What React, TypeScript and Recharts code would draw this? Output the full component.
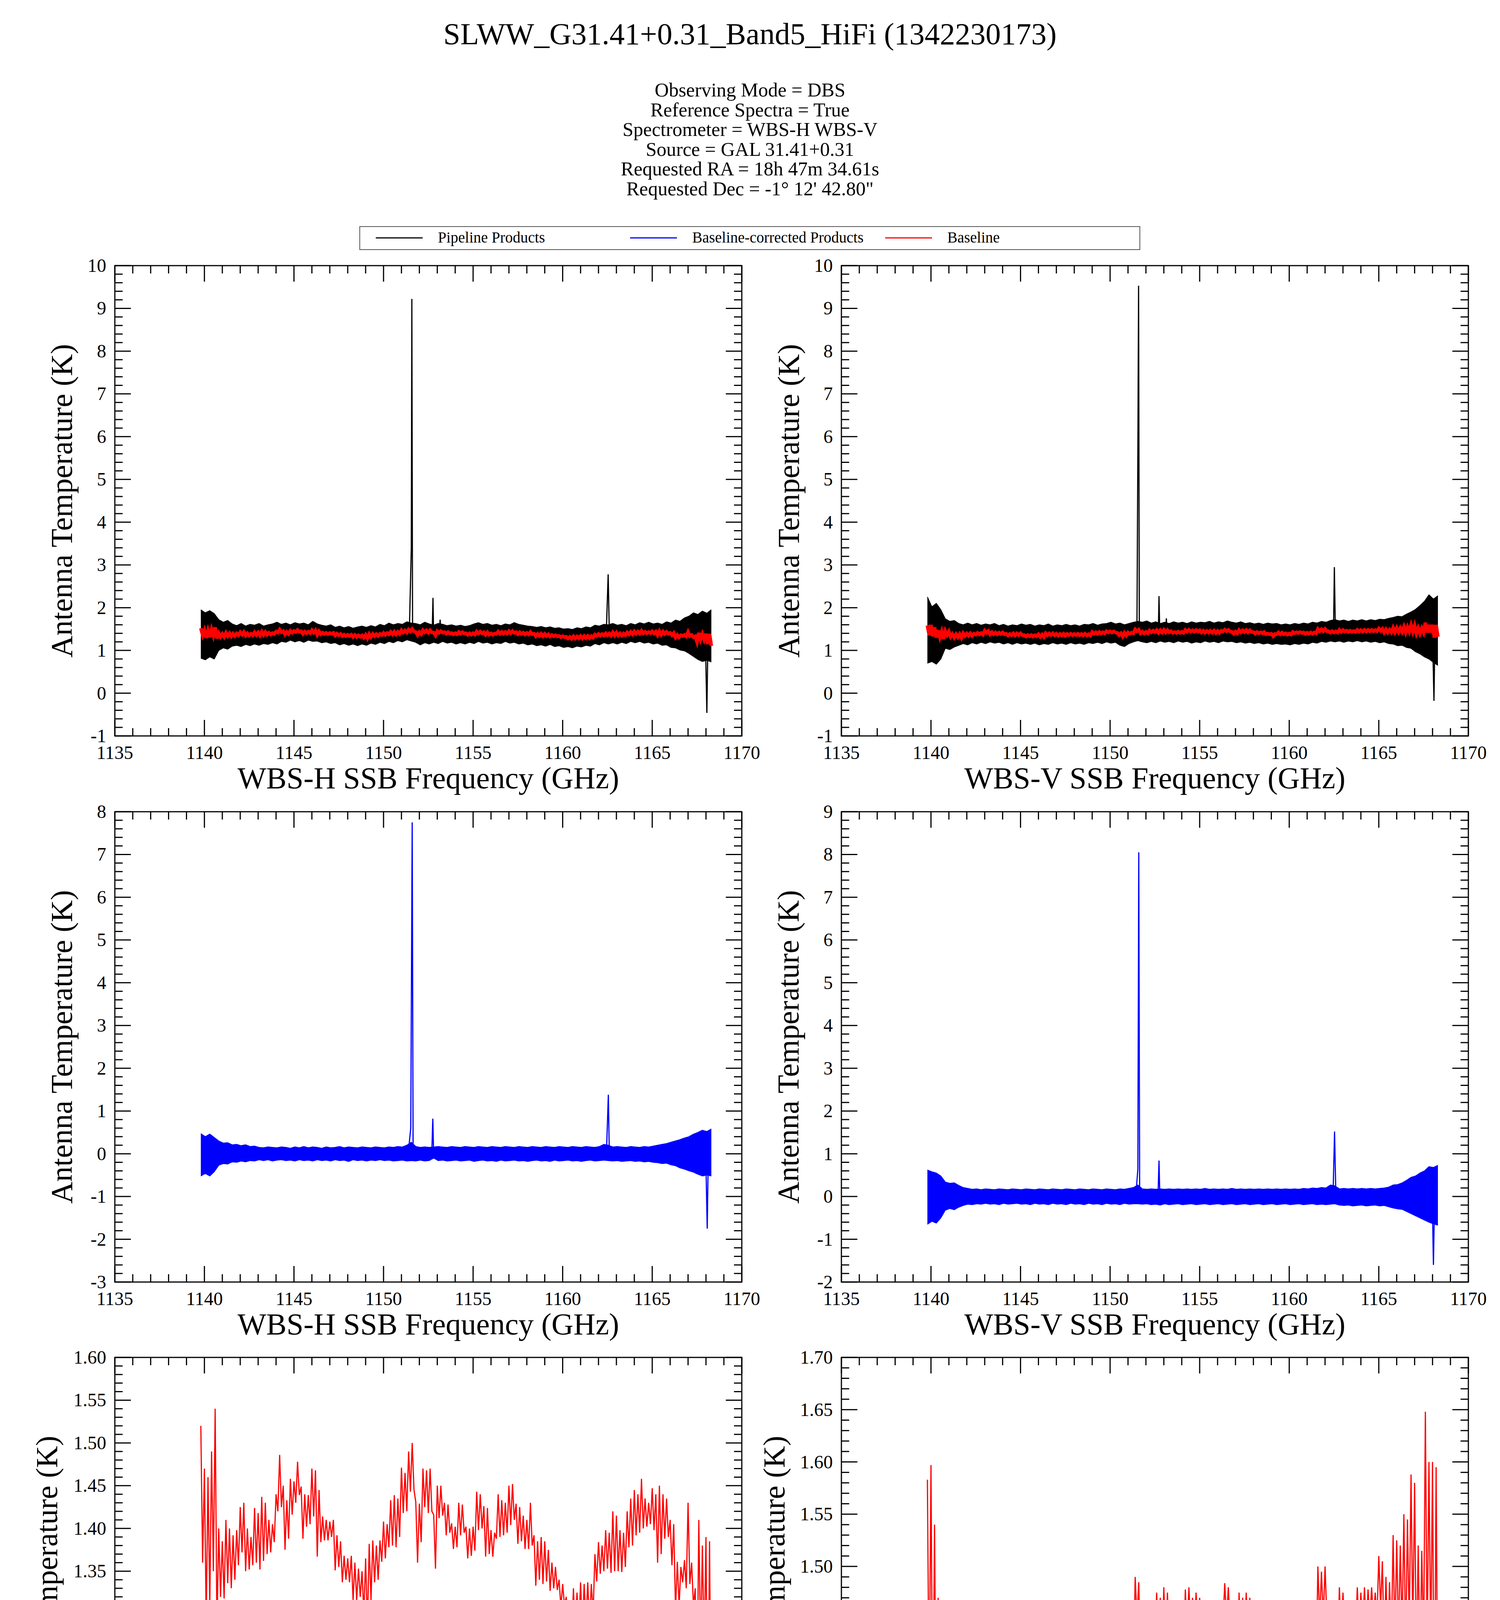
import { Area, ComposedChart, Line, ReferenceArea, XAxis, YAxis } from "recharts";

const SERIF = "'Liberation Serif', 'Times New Roman', serif";

// plot geometry (page pixels)
const PLOT_W = 1605;
const PLOT_H = 1204;
const MARGIN_TOP = 50;
const MARGIN_RIGHT = 60;
const Y_AXIS_W = 260;
const X_AXIS_H = 170;
const CHART_W = Y_AXIS_W + PLOT_W + MARGIN_RIGHT;
const CHART_H = MARGIN_TOP + PLOT_H + X_AXIS_H;

const TITLE = "SLWW_G31.41+0.31_Band5_HiFi (1342230173)";
const INFO_LINES = [
  "Observing Mode = DBS",
  "Reference Spectra = True",
  "Spectrometer = WBS-H WBS-V",
  "Source = GAL 31.41+0.31",
  "Requested RA = 18h 47m 34.61s",
  "Requested Dec = -1\u00b0 12' 42.80\"",
];
const LEGEND = [
  { name: "Pipeline Products", color: "#000000", x: 962 },
  { name: "Baseline-corrected Products", color: "#0000ff", x: 1613 },
  { name: "Baseline", color: "#ff0000", x: 2266 },
];

const freqMajor = [1135, 1140, 1145, 1150, 1155, 1160, 1165, 1170];
const tempMajorTop = [-1, 0, 1, 2, 3, 4, 5, 6, 7, 8, 9, 10];
const tempMajorMidH = [-3, -2, -1, 0, 1, 2, 3, 4, 5, 6, 7, 8];
const tempMajorMidV = [-2, -1, 0, 1, 2, 3, 4, 5, 6, 7, 8, 9];
const tempMajorLowH = [1.05, 1.1, 1.15, 1.2, 1.25, 1.3, 1.35, 1.4, 1.45, 1.5, 1.55, 1.6];
const tempMajorLowV = [1.25, 1.3, 1.35, 1.4, 1.45, 1.5, 1.55, 1.6, 1.65, 1.7];

// channel grids (GHz)
const bandFreq = Array.from({ length: 115 }, (_, i) => +(1139.8 + 0.25 * i).toFixed(2));
const baseFreq = Array.from({ length: 286 }, (_, i) => +(1139.8 + 0.1 * i).toFixed(1));

// Pipeline products, noise envelope (K), one pair per channel of bandFreq
const wbsHPipeLow = [
  0.82, 0.78, 0.85, 0.8, 1.0, 1.06, 1.03, 1.1, 1.12, 1.09,
  1.14, 1.11, 1.15, 1.12, 1.16, 1.14, 1.18, 1.15, 1.21, 1.19,
  1.24, 1.2, 1.23, 1.19, 1.24, 1.21, 1.22, 1.18, 1.2, 1.16,
  1.18, 1.13, 1.16, 1.12, 1.15, 1.11, 1.15, 1.12, 1.17, 1.14,
  1.19, 1.16, 1.21, 1.18, 1.23, 1.2, 1.25, 1.22, 1.19, 1.13,
  1.18, 1.15, 1.19, 1.16, 1.21, 1.17, 1.19, 1.15, 1.18, 1.15,
  1.19, 1.16, 1.21, 1.17, 1.19, 1.15, 1.18, 1.16, 1.21, 1.17,
  1.19, 1.15, 1.17, 1.13, 1.15, 1.11, 1.13, 1.1, 1.14, 1.09,
  1.11, 1.07, 1.09, 1.06, 1.1, 1.08, 1.12, 1.1, 1.16, 1.13,
  1.18, 1.15, 1.18, 1.15, 1.19, 1.16, 1.21, 1.18, 1.21, 1.17,
  1.19, 1.15, 1.17, 1.12, 1.13, 1.07, 1.06, 1.01, 0.99, 0.93,
  0.86, 0.79, 0.74, 0.77, 0.73,
];
const wbsHPipeHigh = [
  1.95, 1.88, 1.93, 1.86, 1.72, 1.66, 1.7, 1.62, 1.58, 1.63,
  1.57, 1.61, 1.59, 1.63, 1.57, 1.6, 1.62, 1.66, 1.61, 1.64,
  1.6, 1.65, 1.62, 1.64, 1.6, 1.68, 1.62, 1.59, 1.57, 1.6,
  1.54, 1.57, 1.53, 1.56, 1.52, 1.55, 1.57, 1.54, 1.58, 1.55,
  1.61, 1.58, 1.64, 1.6, 1.63, 1.61, 1.67, 1.64, 1.63, 1.6,
  1.66, 1.62, 1.59, 1.63, 1.61, 1.58, 1.6, 1.57, 1.59, 1.56,
  1.58, 1.62, 1.65, 1.61, 1.63, 1.59, 1.61, 1.58, 1.62, 1.6,
  1.65, 1.61, 1.59, 1.57, 1.56, 1.54, 1.56, 1.53, 1.55, 1.52,
  1.53, 1.5, 1.51, 1.49, 1.53, 1.51, 1.55, 1.53, 1.59, 1.57,
  1.61, 1.6, 1.63, 1.59, 1.61, 1.58, 1.63, 1.6, 1.65, 1.62,
  1.66, 1.62, 1.64, 1.61, 1.67, 1.64, 1.71, 1.68, 1.76, 1.8,
  1.88, 1.84, 1.92, 1.87, 1.95,
];
const wbsVPipeLow = [
  0.7, 0.74, 0.68, 0.8, 1.05, 1.02, 1.08, 1.12, 1.16, 1.13,
  1.18, 1.15, 1.19, 1.16, 1.2, 1.17, 1.19, 1.15, 1.18, 1.14,
  1.18, 1.15, 1.17, 1.14, 1.17, 1.13, 1.16, 1.14, 1.18, 1.15,
  1.17, 1.14, 1.18, 1.15, 1.17, 1.14, 1.18, 1.16, 1.19, 1.16,
  1.2, 1.17, 1.19, 1.12, 1.09, 1.16, 1.2, 1.23, 1.2, 1.18,
  1.21, 1.18, 1.22, 1.19, 1.21, 1.18, 1.22, 1.19, 1.21, 1.17,
  1.2, 1.18, 1.22, 1.19, 1.21, 1.18, 1.22, 1.2, 1.21, 1.18,
  1.2, 1.17, 1.19, 1.16, 1.18, 1.15, 1.17, 1.14, 1.16, 1.14,
  1.15, 1.13, 1.16, 1.14, 1.17, 1.15, 1.19, 1.17, 1.21, 1.19,
  1.22, 1.2, 1.22, 1.19, 1.22, 1.2, 1.23, 1.2, 1.22, 1.19,
  1.21, 1.18, 1.2, 1.16, 1.15, 1.11, 1.12, 1.07, 1.05, 0.97,
  0.92, 0.85, 0.8, 0.72, 0.65,
];
const wbsVPipeHigh = [
  2.25, 2.02, 2.1, 1.95, 1.74, 1.68, 1.7, 1.63, 1.6, 1.64,
  1.6, 1.63, 1.59, 1.62, 1.6, 1.63, 1.58, 1.61, 1.57, 1.6,
  1.58, 1.62, 1.59, 1.61, 1.57, 1.6, 1.58, 1.62, 1.57, 1.6,
  1.58, 1.61, 1.58, 1.6, 1.57, 1.61, 1.6, 1.63, 1.59, 1.62,
  1.63, 1.66, 1.62, 1.64, 1.6, 1.63, 1.66, 1.68, 1.66, 1.69,
  1.64, 1.67, 1.63, 1.66, 1.63, 1.67, 1.64, 1.66, 1.63, 1.67,
  1.64, 1.66, 1.65, 1.68, 1.64, 1.67, 1.65, 1.69, 1.66, 1.64,
  1.67, 1.63, 1.65, 1.62, 1.64, 1.61, 1.64, 1.62, 1.63, 1.6,
  1.62, 1.6, 1.63, 1.61, 1.64, 1.62, 1.66, 1.64, 1.68, 1.66,
  1.7, 1.72, 1.69, 1.71, 1.68, 1.71, 1.69, 1.72, 1.69, 1.72,
  1.7, 1.73, 1.72, 1.75, 1.77, 1.8, 1.79, 1.85, 1.9, 1.96,
  2.05, 2.15, 2.3, 2.2, 2.28,
];

// Baseline-corrected products, noise envelope (K)
const wbsHCorrLow = [
  -0.52, -0.46, -0.52, -0.42, -0.27, -0.23, -0.24, -0.19, -0.2, -0.17,
  -0.19, -0.16, -0.17, -0.14, -0.16, -0.14, -0.17, -0.15, -0.14, -0.16,
  -0.15, -0.17, -0.14, -0.16, -0.15, -0.17, -0.14, -0.16, -0.15, -0.17,
  -0.14, -0.16, -0.15, -0.18, -0.14, -0.16, -0.15, -0.17, -0.15, -0.16,
  -0.14, -0.16, -0.15, -0.17, -0.16, -0.15, -0.17, -0.16, -0.17, -0.15,
  -0.17, -0.16, -0.1, -0.16, -0.15, -0.17, -0.16, -0.15, -0.17, -0.16,
  -0.15, -0.18, -0.16, -0.15, -0.17, -0.16, -0.18, -0.15, -0.17, -0.16,
  -0.15, -0.17, -0.16, -0.18, -0.16, -0.15, -0.17, -0.16, -0.18, -0.15,
  -0.17, -0.16, -0.15, -0.17, -0.16, -0.18, -0.16, -0.15, -0.17, -0.16,
  -0.15, -0.16, -0.17, -0.16, -0.18, -0.17, -0.16, -0.18, -0.17, -0.19,
  -0.18, -0.2, -0.21, -0.23, -0.22, -0.26, -0.28, -0.33, -0.36, -0.4,
  -0.43, -0.48, -0.52, -0.5, -0.52,
];
const wbsHCorrHigh = [
  0.47, 0.4, 0.46, 0.38, 0.3, 0.25, 0.26, 0.21, 0.22, 0.19,
  0.21, 0.17, 0.18, 0.15, 0.14, 0.16, 0.15, 0.14, 0.16, 0.15,
  0.13, 0.16, 0.14, 0.17, 0.14, 0.16, 0.15, 0.13, 0.16, 0.14,
  0.15, 0.17, 0.14, 0.16, 0.15, 0.14, 0.16, 0.15, 0.14, 0.16,
  0.15, 0.14, 0.16, 0.15, 0.17, 0.16, 0.2, 0.27, 0.17, 0.15,
  0.16, 0.15, 0.16, 0.17, 0.16, 0.15, 0.17, 0.16, 0.15, 0.17,
  0.16, 0.15, 0.17, 0.16, 0.15, 0.17, 0.16, 0.15, 0.17, 0.16,
  0.15, 0.17, 0.16, 0.15, 0.17, 0.16, 0.15, 0.17, 0.16, 0.15,
  0.17, 0.16, 0.15, 0.17, 0.16, 0.15, 0.17, 0.16, 0.15, 0.17,
  0.22, 0.2, 0.16, 0.17, 0.16, 0.15, 0.17, 0.16, 0.15, 0.17,
  0.16, 0.18, 0.2, 0.22, 0.24, 0.27, 0.3, 0.33, 0.37, 0.4,
  0.46, 0.5, 0.55, 0.52, 0.58,
];
const wbsVCorrLow = [
  -0.65, -0.58, -0.62, -0.5, -0.32, -0.28, -0.31, -0.25, -0.21, -0.18,
  -0.19, -0.17, -0.18, -0.16, -0.18, -0.17, -0.19, -0.16, -0.18, -0.17,
  -0.16, -0.18, -0.17, -0.19, -0.16, -0.18, -0.17, -0.19, -0.16, -0.18,
  -0.17, -0.19, -0.16, -0.18, -0.17, -0.19, -0.16, -0.18, -0.17, -0.19,
  -0.16, -0.18, -0.17, -0.19, -0.16, -0.18, -0.17, -0.17, -0.18, -0.17,
  -0.19, -0.18, -0.2, -0.17, -0.19, -0.18, -0.17, -0.19, -0.18, -0.17,
  -0.19, -0.18, -0.17, -0.19, -0.18, -0.17, -0.19, -0.18, -0.17, -0.19,
  -0.18, -0.17, -0.19, -0.18, -0.17, -0.19, -0.18, -0.17, -0.19, -0.18,
  -0.17, -0.19, -0.18, -0.17, -0.19, -0.18, -0.17, -0.19, -0.18, -0.19,
  -0.18, -0.17, -0.2, -0.21, -0.2, -0.22, -0.21, -0.2, -0.22, -0.21,
  -0.2, -0.22, -0.21, -0.24, -0.27, -0.29, -0.3, -0.35, -0.4, -0.45,
  -0.5, -0.55, -0.6, -0.64, -0.67,
];
const wbsVCorrHigh = [
  0.62, 0.58, 0.55, 0.48, 0.34, 0.31, 0.32, 0.26, 0.21, 0.19,
  0.17, 0.18, 0.16, 0.18, 0.17, 0.16, 0.18, 0.17, 0.16, 0.18,
  0.17, 0.16, 0.18, 0.17, 0.16, 0.18, 0.17, 0.16, 0.18, 0.17,
  0.16, 0.18, 0.17, 0.16, 0.18, 0.17, 0.16, 0.18, 0.17, 0.16,
  0.18, 0.17, 0.16, 0.18, 0.17, 0.19, 0.21, 0.27, 0.18, 0.17,
  0.18, 0.17, 0.18, 0.17, 0.18, 0.17, 0.18, 0.17, 0.18, 0.17,
  0.18, 0.17, 0.19, 0.17, 0.18, 0.17, 0.18, 0.17, 0.19, 0.17,
  0.18, 0.17, 0.18, 0.17, 0.18, 0.17, 0.18, 0.17, 0.18, 0.17,
  0.18, 0.17, 0.18, 0.17, 0.19, 0.18, 0.2, 0.19, 0.21, 0.2,
  0.27, 0.25, 0.18, 0.19, 0.18, 0.19, 0.18, 0.19, 0.18, 0.19,
  0.18, 0.19, 0.2, 0.22, 0.27, 0.28, 0.32, 0.38, 0.45, 0.48,
  0.55, 0.6, 0.7, 0.68, 0.73,
];

// narrow lines [GHz, K]
const wbsHPipeLines = [
  [[1151.45, 1.6], [1151.55, 3.4], [1151.58, 9.22], [1151.62, 1.6]],
  [[1152.72, 1.5], [1152.76, 2.23], [1152.8, 1.3]],
  [[1153.12, 1.5], [1153.16, 1.72], [1153.2, 1.4]],
  [[1162.45, 1.6], [1162.54, 2.78], [1162.6, 1.5]],
  [[1167.98, 1.0], [1168.05, -0.46], [1168.1, 1.0]],
];
const wbsVPipeLines = [
  [[1151.5, 1.6], [1151.56, 6.55], [1151.59, 9.53], [1151.63, 1.6]],
  [[1152.7, 1.6], [1152.73, 2.27], [1152.77, 1.5]],
  [[1153.12, 1.6], [1153.14, 1.75], [1153.18, 1.5]],
  [[1162.48, 1.7], [1162.52, 2.95], [1162.57, 1.6]],
  [[1168.02, 1.0], [1168.08, -0.18], [1168.12, 1.0]],
];
const wbsHCorrLines = [
  [[1151.4, 0.1], [1151.52, 0.6], [1151.6, 7.75], [1151.65, 0.1]],
  [[1152.7, 0.1], [1152.75, 0.82], [1152.8, -0.05]],
  [[1162.45, 0.1], [1162.55, 1.38], [1162.6, 0.1]],
  [[1168.0, -0.3], [1168.07, -1.75], [1168.12, -0.3]],
];
const wbsVCorrLines = [
  [[1151.45, 0.1], [1151.55, 0.64], [1151.58, 5.1], [1151.6, 8.05], [1151.65, 0.1]],
  [[1152.68, 0.1], [1152.73, 0.84], [1152.78, -0.05]],
  [[1162.45, 0.1], [1162.53, 1.52], [1162.6, 0.1]],
  [[1168.0, -0.4], [1168.05, -1.6], [1168.1, -0.4]],
];

// Baseline (K), one value per channel of baseFreq
const wbsHBaseline = [
  1.52, 1.36, 1.47, 1.29, 1.46, 1.31, 1.49, 1.35, 1.54, 1.28,
  1.40, 1.32, 1.385, 1.318, 1.41, 1.336, 1.40, 1.33, 1.392, 1.34,
  1.398, 1.357, 1.425, 1.372, 1.43, 1.35, 1.40, 1.352, 1.39, 1.357,
  1.424, 1.36, 1.418, 1.352, 1.437, 1.362, 1.43, 1.37, 1.41, 1.372,
  1.405, 1.384, 1.44, 1.42, 1.486, 1.425, 1.45, 1.375, 1.433, 1.388,
  1.458, 1.416, 1.455, 1.43, 1.478, 1.439, 1.449, 1.388, 1.44, 1.402,
  1.439, 1.405, 1.47, 1.414, 1.468, 1.367, 1.445, 1.384, 1.414, 1.386,
  1.41, 1.386, 1.408, 1.39, 1.41, 1.351, 1.392, 1.355, 1.385, 1.337,
  1.368, 1.34, 1.365, 1.337, 1.368, 1.316, 1.36, 1.316, 1.353, 1.32,
  1.35, 1.30, 1.365, 1.286, 1.382, 1.316, 1.386, 1.337, 1.38, 1.34,
  1.386, 1.361, 1.408, 1.365, 1.405, 1.378, 1.433, 1.38, 1.439, 1.378,
  1.435, 1.39, 1.471, 1.418, 1.465, 1.42, 1.49, 1.443, 1.50, 1.445,
  1.431, 1.36, 1.429, 1.384, 1.47, 1.425, 1.468, 1.418, 1.47, 1.42,
  1.416, 1.353, 1.45, 1.412, 1.45, 1.415, 1.43, 1.392, 1.428, 1.395,
  1.406, 1.376, 1.402, 1.378, 1.43, 1.392, 1.428, 1.395, 1.402, 1.365,
  1.40, 1.368, 1.402, 1.374, 1.443, 1.398, 1.44, 1.40, 1.426, 1.367,
  1.424, 1.37, 1.398, 1.367, 1.395, 1.388, 1.44, 1.39, 1.433, 1.392,
  1.43, 1.395, 1.45, 1.404, 1.452, 1.41, 1.429, 1.382, 1.425, 1.385,
  1.415, 1.376, 1.41, 1.376, 1.43, 1.38, 1.392, 1.333, 1.385, 1.34,
  1.39, 1.335, 1.385, 1.338, 1.375, 1.327, 1.36, 1.33, 1.355, 1.328,
  1.34, 1.308, 1.335, 1.31, 1.32, 1.28, 1.315, 1.272, 1.33, 1.28,
  1.325, 1.285, 1.337, 1.282, 1.335, 1.29, 1.337, 1.288, 1.335, 1.30,
  1.37, 1.338, 1.384, 1.347, 1.38, 1.35, 1.398, 1.353, 1.395, 1.348,
  1.42, 1.35, 1.415, 1.35, 1.398, 1.349, 1.395, 1.355, 1.42, 1.378,
  1.435, 1.38, 1.445, 1.392, 1.44, 1.395, 1.458, 1.40, 1.435, 1.402,
  1.43, 1.405, 1.447, 1.398, 1.44, 1.36, 1.45, 1.37, 1.44, 1.388,
  1.435, 1.39, 1.41, 1.357, 1.405, 1.304, 1.361, 1.31, 1.355, 1.337,
  1.363, 1.33, 1.43, 1.335, 1.36, 1.31, 1.33, 1.20, 1.41, 1.26,
  1.38, 1.255, 1.39, 1.15, 1.385, 1.105,
];
const wbsVBaseline = [
  1.583, 1.36, 1.597, 1.33, 1.54, 1.30, 1.47, 1.31, 1.44, 1.27,
  1.45, 1.36, 1.44, 1.32, 1.38, 1.30, 1.375, 1.31, 1.38, 1.295,
  1.40, 1.34, 1.395, 1.345, 1.40, 1.34, 1.39, 1.37, 1.41, 1.375,
  1.405, 1.37, 1.46, 1.415, 1.455, 1.377, 1.425, 1.38, 1.42, 1.38,
  1.415, 1.385, 1.42, 1.38, 1.39, 1.35, 1.385, 1.355, 1.40, 1.353,
  1.398, 1.36, 1.40, 1.355, 1.36, 1.325, 1.358, 1.33, 1.36, 1.325,
  1.355, 1.33, 1.377, 1.32, 1.37, 1.315, 1.40, 1.355, 1.395, 1.36,
  1.40, 1.355, 1.39, 1.345, 1.385, 1.35, 1.39, 1.345, 1.385, 1.36,
  1.39, 1.358, 1.385, 1.36, 1.39, 1.355, 1.385, 1.35, 1.39, 1.35,
  1.38, 1.35, 1.43, 1.39, 1.425, 1.39, 1.43, 1.396, 1.425, 1.40,
  1.45, 1.42, 1.448, 1.42, 1.445, 1.418, 1.41, 1.36, 1.40, 1.33,
  1.41, 1.35, 1.42, 1.39, 1.415, 1.40, 1.49, 1.45, 1.485, 1.40,
  1.44, 1.396, 1.435, 1.40, 1.465, 1.425, 1.46, 1.43, 1.475, 1.414,
  1.47, 1.42, 1.48, 1.42, 1.475, 1.425, 1.45, 1.41, 1.43, 1.41,
  1.44, 1.41, 1.435, 1.412, 1.478, 1.438, 1.48, 1.44, 1.47, 1.438,
  1.475, 1.44, 1.47, 1.42, 1.46, 1.416, 1.455, 1.42, 1.46, 1.416,
  1.46, 1.406, 1.455, 1.41, 1.46, 1.444, 1.484, 1.45, 1.48, 1.444,
  1.435, 1.393, 1.44, 1.40, 1.475, 1.425, 1.47, 1.43, 1.475, 1.425,
  1.47, 1.43, 1.43, 1.393, 1.43, 1.402, 1.425, 1.402, 1.43, 1.38,
  1.393, 1.377, 1.39, 1.334, 1.383, 1.377, 1.42, 1.38, 1.415, 1.377,
  1.40, 1.37, 1.395, 1.372, 1.43, 1.406, 1.425, 1.408, 1.43, 1.406,
  1.42, 1.389, 1.415, 1.39, 1.42, 1.389, 1.42, 1.40, 1.50, 1.45,
  1.495, 1.45, 1.50, 1.45, 1.45, 1.418, 1.45, 1.42, 1.445, 1.418,
  1.48, 1.435, 1.475, 1.44, 1.46, 1.432, 1.46, 1.435, 1.455, 1.432,
  1.48, 1.438, 1.475, 1.44, 1.48, 1.44, 1.478, 1.448, 1.48, 1.448,
  1.475, 1.45, 1.51, 1.46, 1.505, 1.42, 1.49, 1.42, 1.485, 1.425,
  1.53, 1.43, 1.525, 1.43, 1.52, 1.435, 1.55, 1.42, 1.545, 1.44,
  1.588, 1.44, 1.58, 1.40, 1.52, 1.40, 1.515, 1.42, 1.648, 1.42,
  1.60, 1.42, 1.60, 1.30, 1.595, 1.32,
];

const toBand = (low: number[], high: number[]) =>
  bandFreq.map((f, i) => ({ f, band: [low[i], high[i]] }));
const toSeries = (values: number[]) => baseFreq.map((f, i) => ({ f, v: values[i] }));
const toLine = (pts: number[][]) => pts.map(([f, v]) => ({ f, v }));

function fillTicks(major: number[], step: number) {
  const lo = major[0];
  const n = Math.round((major[major.length - 1] - lo) / step);
  return Array.from({ length: n + 1 }, (_, i) => +(lo + i * step).toFixed(4));
}

const freqTicks = fillTicks(freqMajor, 1);

function FreqTick(props: any) {
  const { x, y, payload } = props;
  const major = payload.value % 5 === 0;
  const len = major ? 41 : 20;
  const top = y - PLOT_H;
  return (
    <g>
      <line x1={x} x2={x} y1={y} y2={y - len} stroke="#000" strokeWidth={3} />
      <line x1={x} x2={x} y1={top} y2={top + len} stroke="#000" strokeWidth={3} />
      {major && (
        <text x={x} y={y + 59} textAnchor="middle" fontSize={48} fontFamily={SERIF} fill="#000">
          {payload.value}
        </text>
      )}
    </g>
  );
}

function TempTick(props: any) {
  const { x, y, payload, majorStep, digits } = props;
  const r = payload.value / majorStep;
  const major = Math.abs(r - Math.round(r)) < 1e-6;
  const len = major ? 41 : 20;
  const right = x + PLOT_W;
  return (
    <g>
      <line x1={x} x2={x + len} y1={y} y2={y} stroke="#000" strokeWidth={3} />
      <line x1={right} x2={right - len} y1={y} y2={y} stroke="#000" strokeWidth={3} />
      {major && (
        <text x={x - 22} y={y + 16} textAnchor="end" fontSize={48} fontFamily={SERIF} fill="#000">
          {payload.value.toFixed(digits)}
        </text>
      )}
    </g>
  );
}

type PanelProps = {
  left: number;
  top: number;
  yMajor: number[];
  minorStep: number;
  digits: number;
  children: any;
};

function SpectrumPanel({ left, top, yMajor, minorStep, digits, children }: PanelProps) {
  const majorStep = +(yMajor[1] - yMajor[0]).toFixed(4);
  const yDomain = [yMajor[0], yMajor[yMajor.length - 1]];
  return (
    <div style={{ position: "absolute", left: left - Y_AXIS_W, top: top - MARGIN_TOP }}>
      <ComposedChart
        width={CHART_W}
        height={CHART_H}
        margin={{ top: MARGIN_TOP, right: MARGIN_RIGHT, bottom: 0, left: 0 }}
      >
        <XAxis
          type="number"
          dataKey="f"
          domain={[1135, 1170]}
          ticks={freqTicks}
          interval={0}
          allowDataOverflow
          height={X_AXIS_H}
          axisLine={false}
          tickLine={false}
          tickSize={0}
          tickMargin={0}
          tick={(p: any) => <FreqTick {...p} />}
        />
        <YAxis
          type="number"
          domain={yDomain}
          ticks={fillTicks(yMajor, minorStep)}
          interval={0}
          allowDataOverflow
          width={Y_AXIS_W}
          axisLine={false}
          tickLine={false}
          tickSize={0}
          tickMargin={0}
          tick={(p: any) => <TempTick {...p} majorStep={majorStep} digits={digits} />}
        />
        <ReferenceArea
          x1={1135}
          x2={1170}
          y1={yDomain[0]}
          y2={yDomain[1]}
          fill="none"
          stroke="#000"
          strokeWidth={3}
          ifOverflow="visible"
        />
        {children}
      </ComposedChart>
    </div>
  );
}

function bandSeries(low: number[], high: number[], lines: number[][][], color: string) {
  return [
    <Area
      key="band"
      data={toBand(low, high)}
      dataKey="band"
      type="linear"
      stroke={color}
      strokeWidth={2}
      fill={color}
      fillOpacity={1}
      dot={false}
      activeDot={false}
      isAnimationActive={false}
    />,
    ...lines.map((pts, i) => (
      <Line
        key={`l${i}`}
        data={toLine(pts)}
        dataKey="v"
        type="linear"
        stroke={color}
        strokeWidth={3}
        dot={false}
        activeDot={false}
        isAnimationActive={false}
      />
    )),
  ];
}

function baselineSeries(baseline: number[], width: number) {
  return (
    <Line
      key="base"
      data={toSeries(baseline)}
      dataKey="v"
      type="linear"
      stroke="#ff0000"
      strokeWidth={width}
      dot={false}
      activeDot={false}
      isAnimationActive={false}
    />
  );
}

const panelPos = [
  { left: 294, top: 680, xLabel: "WBS-H SSB Frequency (GHz)", yGap: 110 },
  { left: 2154, top: 680, xLabel: "WBS-V SSB Frequency (GHz)", yGap: 109 },
  { left: 294, top: 2078, xLabel: "WBS-H SSB Frequency (GHz)", yGap: 110 },
  { left: 2154, top: 2078, xLabel: "WBS-V SSB Frequency (GHz)", yGap: 110 },
  { left: 294, top: 3475, xLabel: "WBS-H SSB Frequency (GHz)", yGap: 148 },
  { left: 2154, top: 3475, xLabel: "WBS-V SSB Frequency (GHz)", yGap: 146 },
];

export default function App() {
  return (
    <div
      style={{
        position: "relative",
        width: 3840,
        height: 4900,
        margin: "-8px 0 0 -8px",
        background: "#fff",
        overflow: "hidden",
      }}
    >
      <svg
        width={3840}
        height={4900}
        style={{ position: "absolute", left: 0, top: 0 }}
        fontFamily={SERIF}
      >
        <text x={1920} y={113} textAnchor="middle" fontSize={78} fill="#000">
          {TITLE}
        </text>
        {INFO_LINES.map((line, i) => (
          <text key={line} x={1920} y={247 + i * 50.6} textAnchor="middle" fontSize={50} fill="#000">
            {line}
          </text>
        ))}
        <rect x={921} y={580} width={1997} height={59} fill="none" stroke="#555" strokeWidth={2} />
        {LEGEND.map((item) => (
          <g key={item.name}>
            <line x1={item.x} x2={item.x + 120} y1={609} y2={609} stroke={item.color} strokeWidth={3} />
            <text x={item.x + 159} y={621} fontSize={39} fill="#000">
              {item.name}
            </text>
          </g>
        ))}
        {panelPos.map((p, i) => (
          <g key={i}>
            <text
              x={p.left + PLOT_W / 2}
              y={p.top + PLOT_H + 134}
              textAnchor="middle"
              fontSize={78}
              fill="#000"
            >
              {p.xLabel}
            </text>
            <text
              x={p.left - p.yGap}
              y={p.top + PLOT_H / 2}
              textAnchor="middle"
              fontSize={78}
              fill="#000"
              transform={`rotate(-90 ${p.left - p.yGap} ${p.top + PLOT_H / 2})`}
            >
              Antenna Temperature (K)
            </text>
          </g>
        ))}
      </svg>

      <SpectrumPanel left={294} top={680} yMajor={tempMajorTop} minorStep={0.2} digits={0}>
        {bandSeries(wbsHPipeLow, wbsHPipeHigh, wbsHPipeLines, "#000000")}
        {baselineSeries(wbsHBaseline, 9)}
      </SpectrumPanel>
      <SpectrumPanel left={2154} top={680} yMajor={tempMajorTop} minorStep={0.2} digits={0}>
        {bandSeries(wbsVPipeLow, wbsVPipeHigh, wbsVPipeLines, "#000000")}
        {baselineSeries(wbsVBaseline, 9)}
      </SpectrumPanel>
      <SpectrumPanel left={294} top={2078} yMajor={tempMajorMidH} minorStep={0.2} digits={0}>
        {bandSeries(wbsHCorrLow, wbsHCorrHigh, wbsHCorrLines, "#0000ff")}
      </SpectrumPanel>
      <SpectrumPanel left={2154} top={2078} yMajor={tempMajorMidV} minorStep={0.2} digits={0}>
        {bandSeries(wbsVCorrLow, wbsVCorrHigh, wbsVCorrLines, "#0000ff")}
      </SpectrumPanel>
      <SpectrumPanel left={294} top={3475} yMajor={tempMajorLowH} minorStep={0.01} digits={2}>
        {baselineSeries(wbsHBaseline, 3)}
      </SpectrumPanel>
      <SpectrumPanel left={2154} top={3475} yMajor={tempMajorLowV} minorStep={0.01} digits={2}>
        {baselineSeries(wbsVBaseline, 3)}
      </SpectrumPanel>
    </div>
  );
}
